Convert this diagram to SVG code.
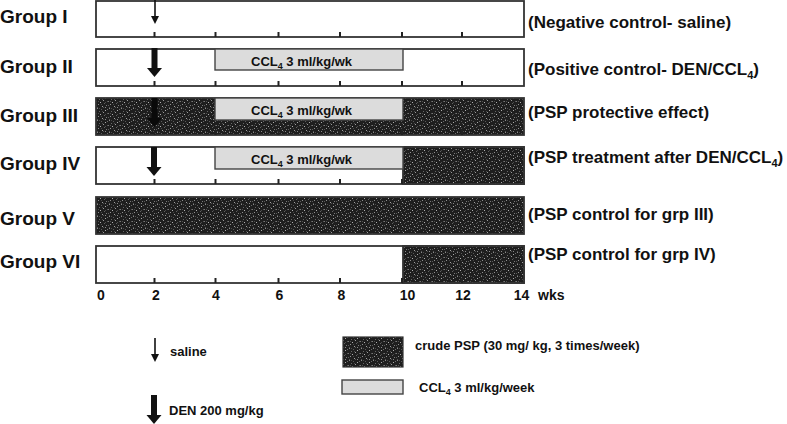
<svg xmlns="http://www.w3.org/2000/svg" width="787" height="424" viewBox="0 0 787 424">
<style>
text{font-family:"Liberation Sans",Arial,sans-serif;font-weight:bold;fill:#111}
.grp{font-size:19px}
.desc{font-size:17px}
.ax{font-size:14px;text-anchor:middle}
.lg{font-size:13px}
.bar{fill:#fff;stroke:#333;stroke-width:1.8}
.pbar{fill:url(#psp);stroke:#333;stroke-width:1.8}
.ccl{fill:#dcdcdc;stroke:#444;stroke-width:1.4}
.tick{stroke:#222;stroke-width:2}
</style>
<defs>
<pattern id="psp" width="12" height="12" patternUnits="userSpaceOnUse">
<rect width="12" height="12" fill="#1e1e1e"/>
<rect x="1" y="0" width="1" height="1" fill="#8a8a8a"/>
<rect x="5" y="1" width="1" height="1" fill="#5a5a5a"/>
<rect x="9" y="2" width="1" height="1" fill="#aaa"/>
<rect x="3" y="3" width="1" height="1" fill="#666"/>
<rect x="7" y="4" width="1" height="1" fill="#999"/>
<rect x="0" y="5" width="1" height="1" fill="#777"/>
<rect x="11" y="5" width="1" height="1" fill="#555"/>
<rect x="4" y="6" width="1" height="1" fill="#b0b0b0"/>
<rect x="8" y="7" width="1" height="1" fill="#606060"/>
<rect x="2" y="8" width="1" height="1" fill="#909090"/>
<rect x="10" y="9" width="1" height="1" fill="#7a7a7a"/>
<rect x="6" y="10" width="1" height="1" fill="#a0a0a0"/>
<rect x="1" y="11" width="1" height="1" fill="#555"/>
<rect x="9" y="11" width="1" height="1" fill="#888"/>
<rect x="3" y="0" width="1" height="1" fill="#4a4a4a"/>
<rect x="11" y="1" width="1" height="1" fill="#6a6a6a"/>
<rect x="6" y="3" width="1" height="1" fill="#4d4d4d"/>
<rect x="2" y="5" width="1" height="1" fill="#505050"/>
<rect x="9" y="6" width="1" height="1" fill="#4a4a4a"/>
<rect x="0" y="9" width="1" height="1" fill="#5a5a5a"/>
<rect x="5" y="8" width="1" height="1" fill="#4a4a4a"/>
<rect x="7" y="11" width="1" height="1" fill="#505050"/>
</pattern>
<g id="thick">
<rect x="-3" y="0" width="6" height="21"/>
<polygon points="-7.5,20 7.5,20 0,29"/>
</g>
<g id="small">
<line x1="0" y1="0" x2="0" y2="17" stroke="#111" stroke-width="1.6"/>
<polygon points="-4,16 4,16 0,24"/>
</g>
<g id="ticks" class="tick">
<line x1="154.5" y1="0" x2="154.5" y2="-5"/>
<line x1="215.5" y1="0" x2="215.5" y2="-5"/>
<line x1="278.5" y1="0" x2="278.5" y2="-5"/>
<line x1="340" y1="0" x2="340" y2="-5"/>
<line x1="402" y1="0" x2="402" y2="-5"/>
<line x1="462" y1="0" x2="462" y2="-5"/>
</g>
</defs>

<g id="group1">
<text class="grp" x="0" y="23">Group I</text>
<rect class="bar" x="96" y="1" width="428" height="36"/>
<use href="#ticks" transform="translate(0,37)"/>
<use href="#small" x="155" y="0" fill="#111"/>
<text class="desc" x="528" y="28">(Negative control- saline)</text>
</g>

<g id="group2">
<text class="grp" x="0" y="73">Group II</text>
<rect class="bar" x="96" y="49" width="428" height="37"/>
<use href="#ticks" transform="translate(0,86)"/>
<rect class="ccl" x="215" y="49" width="188" height="21"/>
<text class="lg" x="251" y="66">CCL<tspan font-size="9" dy="3">4</tspan><tspan dy="-3"> 3 ml/kg/wk</tspan></text>
<use href="#thick" x="154.5" y="48" fill="#111"/>
<text class="desc" x="528" y="75">(Positive control- DEN/CCL<tspan font-size="11" dy="4">4</tspan><tspan dy="-4">)</tspan></text>
</g>

<g id="group3">
<text class="grp" x="0" y="122">Group III</text>
<rect class="pbar" x="96" y="98" width="428" height="37"/>
<use href="#ticks" transform="translate(0,135)"/>
<rect class="ccl" x="215" y="98" width="188" height="22"/>
<text class="lg" x="251" y="115">CCL<tspan font-size="9" dy="3">4</tspan><tspan dy="-3"> 3 ml/kg/wk</tspan></text>
<use href="#thick" x="154.5" y="98" fill="#0a0a0a"/>
<text class="desc" x="528" y="118">(PSP protective effect)</text>
</g>

<g id="group4">
<text class="grp" x="0" y="170">Group IV</text>
<rect class="bar" x="96" y="147" width="428" height="37"/>
<rect x="403" y="147" width="121" height="37" fill="url(#psp)" stroke="#333" stroke-width="1.8"/>
<use href="#ticks" transform="translate(0,184)"/>
<rect class="ccl" x="215" y="147" width="188" height="22"/>
<text class="lg" x="251" y="164">CCL<tspan font-size="9" dy="3">4</tspan><tspan dy="-3"> 3 ml/kg/wk</tspan></text>
<use href="#thick" x="154" y="147" fill="#111"/>
<text class="desc" x="528" y="163">(PSP treatment after DEN/CCL<tspan font-size="11" dy="4">4</tspan><tspan dy="-4">)</tspan></text>
</g>

<g id="group5">
<text class="grp" x="0" y="225">Group V</text>
<rect class="pbar" x="96" y="197" width="428" height="37"/>
<text class="desc" x="528" y="220">(PSP control for grp III)</text>
</g>

<g id="group6">
<text class="grp" x="0" y="268">Group VI</text>
<rect class="bar" x="96" y="246" width="428" height="37"/>
<rect x="403" y="246" width="121" height="37" fill="url(#psp)" stroke="#333" stroke-width="1.8"/>
<use href="#ticks" transform="translate(0,283)"/>
<text class="desc" x="528" y="260">(PSP control for grp IV)</text>
</g>

<g id="axis">
<text class="ax" x="101" y="300">0</text>
<text class="ax" x="156" y="300">2</text>
<text class="ax" x="216" y="300">4</text>
<text class="ax" x="279.5" y="300">6</text>
<text class="ax" x="341.5" y="300">8</text>
<text class="ax" x="407.5" y="300">10</text>
<text class="ax" x="463" y="300">12</text>
<text class="ax" x="521.5" y="300">14</text>
<text x="538" y="300" font-size="14px">wks</text>
</g>

<g id="legend">
<use href="#small" x="155" y="338" fill="#111"/>
<text class="lg" x="170" y="356">saline</text>
<use href="#thick" x="154" y="395" fill="#111"/>
<text class="lg" x="169" y="415">DEN 200 mg/kg</text>
<rect x="343" y="337" width="60" height="30" fill="url(#psp)" stroke="#333" stroke-width="1.2"/>
<text class="lg" x="415" y="350">crude PSP (30 mg/ kg, 3 times/week)</text>
<rect class="ccl" x="342" y="380" width="61" height="14"/>
<text class="lg" x="419" y="392">CCL<tspan font-size="9" dy="3">4</tspan><tspan dy="-3"> 3 ml/kg/week</tspan></text>
</g>
</svg>
